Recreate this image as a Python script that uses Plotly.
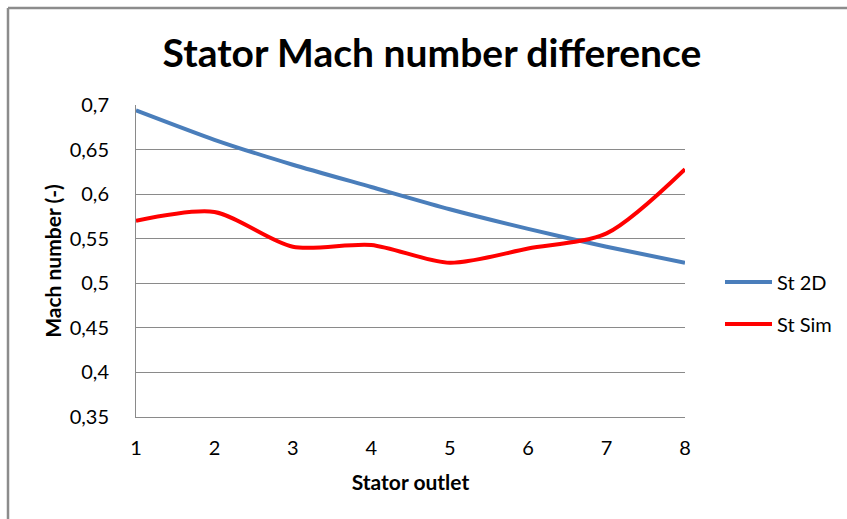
import plotly.graph_objects as go

# Stator outlet stations and Mach numbers
stations = [1, 2, 3, 4, 5, 6, 7, 8]
mach_2d = [0.694, 0.661, 0.633, 0.608, 0.583, 0.561, 0.541, 0.523]
mach_sim = [0.570, 0.580, 0.541, 0.543, 0.523, 0.539, 0.556, 0.628]
series_names = ["St 2D", "St Sim"]
series_colors = ["#4A7EBB", "#FF0000"]

y_ticks = [0.35, 0.40, 0.45, 0.50, 0.55, 0.60, 0.65, 0.70]

W, H = 847, 519
ML, MR, MT, MB = 136, 162, 105, 102
PW, PH = W - ML - MR, H - MT - MB

def px_x(p):
    return (p - ML) / PW

def px_y(p):
    return (H - MB - p) / PH

FONT = "Lato"
GRID = "#8a8a8a"

fig = go.Figure()
fig.add_trace(go.Scatter(
    x=stations, y=mach_2d, name=series_names[0], mode="lines",
    line=dict(color=series_colors[0], width=4, shape="spline", smoothing=0.6),
))
fig.add_trace(go.Scatter(
    x=stations, y=mach_sim, name=series_names[1], mode="lines",
    line=dict(color=series_colors[1], width=4, shape="spline", smoothing=0.8),
))

# Legend drawn as line samples with labels beside them
shapes = [
    dict(type="line", xref="paper", yref="paper",
         x0=px_x(8), x1=px_x(W), y0=px_y(8), y1=px_y(8),
         line=dict(color="#8c8c8c", width=2.5)),
    dict(type="line", xref="paper", yref="paper",
         x0=px_x(8), x1=px_x(8), y0=px_y(8), y1=px_y(H),
         line=dict(color="#8c8c8c", width=2.5)),
]
annotations = []
for name, color, yp in zip(series_names, series_colors, [282, 324]):
    shapes.append(dict(type="line", xref="paper", yref="paper",
                       x0=px_x(725), x1=px_x(772), y0=px_y(yp), y1=px_y(yp),
                       line=dict(color=color, width=4)))
    annotations.append(dict(text=name, xref="paper", yref="paper",
                            x=px_x(775), y=px_y(yp), xanchor="left",
                            yanchor="middle", showarrow=False,
                            font=dict(family=FONT, size=20, color="#000000")))

fig.update_layout(
    width=W, height=H,
    margin=dict(l=ML, r=MR, t=MT, b=MB),
    paper_bgcolor="white", plot_bgcolor="white",
    font=dict(family=FONT, color="#000000"),
    title=dict(
        text="<b>Stator Mach number difference</b>",
        x=432 / W, xref="container", xanchor="center",
        y=1 - 53 / H, yref="container", yanchor="middle",
        font=dict(family=FONT, size=39, color="#000000"),
    ),
    showlegend=False,
    xaxis=dict(
        range=[1, 8], tickmode="array", tickvals=stations,
        ticktext=[str(s) for s in stations],
        showgrid=False, zeroline=False,
        showline=True, linecolor=GRID, linewidth=1,
        ticks="", ticklabelstandoff=13,
        tickfont=dict(family=FONT, size=20, color="#000000"),
        title=dict(text="<b>Stator outlet</b>", standoff=17,
                   font=dict(family=FONT, size=21, color="#000000")),
    ),
    yaxis=dict(
        range=[0.35, 0.70], tickmode="array", tickvals=y_ticks,
        ticktext=[f"{v:g}".replace(".", ",") for v in y_ticks],
        showgrid=True, gridcolor=GRID, gridwidth=1, zeroline=False,
        showline=True, linecolor=GRID, linewidth=1,
        ticks="", ticklabelstandoff=22,
        tickfont=dict(family=FONT, size=20, color="#000000"),
        title=dict(text="<b>Mach number (-)</b>", standoff=2,
                   font=dict(family=FONT, size=21, color="#000000")),
    ),
    shapes=shapes,
    annotations=annotations,
)

fig.write_html("out.html")
